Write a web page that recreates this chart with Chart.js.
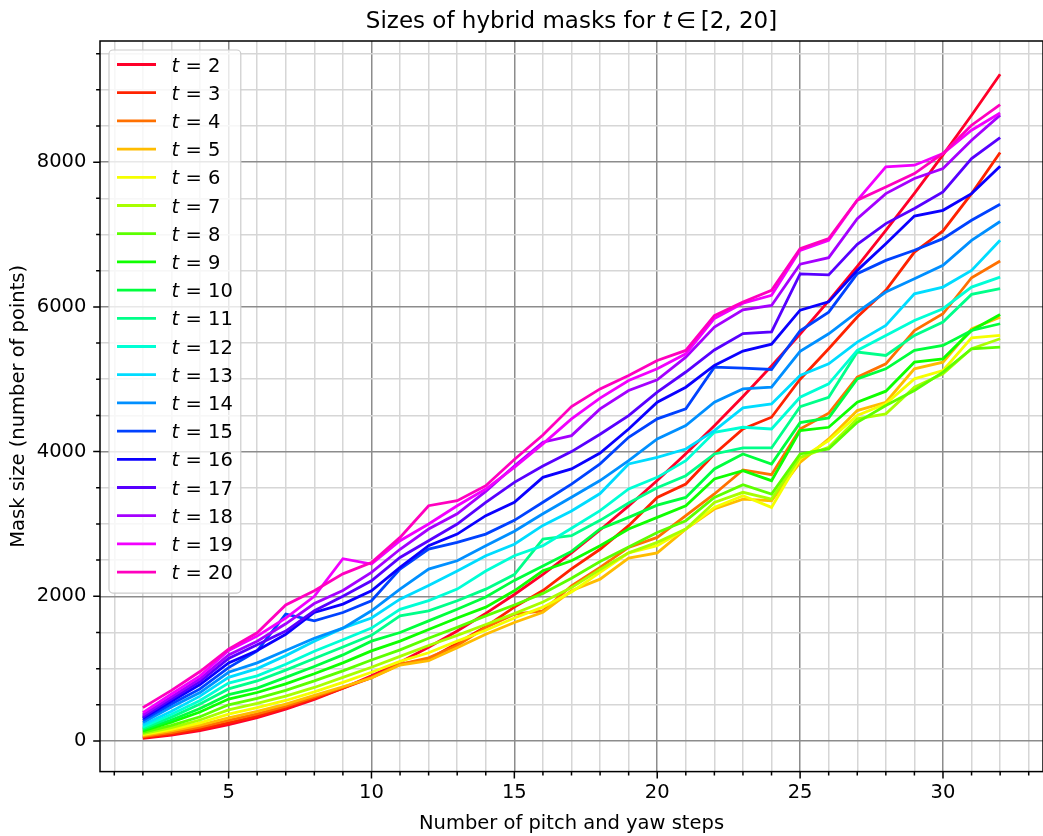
<!DOCTYPE html>
<html>
<head>
<meta charset="utf-8">
<title>Sizes of hybrid masks</title>
<script src="https://cdn.jsdelivr.net/npm/chart.js@4.4.1/dist/chart.umd.min.js"></script>
<style>
  html, body { margin: 0; padding: 0; background: #fff; }
  canvas { display: block; }
</style>
</head>
<body>
<canvas id="mask-chart" width="1043" height="836"></canvas>
<script>
'use strict';

// *********** DATA ****************

let steps = [2, 3, 4, 5, 6, 7, 8, 9, 10, 11, 12, 13, 14, 15, 16, 17, 18, 19, 20, 21, 22, 23, 24, 25, 26, 27, 28, 29, 30, 31, 32];
let tValues = [2, 3, 4, 5, 6, 7, 8, 9, 10, 11, 12, 13, 14, 15, 16, 17, 18, 19, 20];

let maskT2 = [36, 81, 144, 225, 324, 441, 576, 729, 900, 1089, 1296, 1521, 1764, 2025, 2304, 2601, 2916, 3249, 3600, 3969, 4356, 4761, 5184, 5625, 6084, 6561, 7056, 7569, 8100, 8649, 9216];
let maskT3 = [46, 95, 165, 250, 345, 460, 590, 730, 876, 1061, 1130, 1350, 1580, 1850, 2080, 2380, 2650, 2976, 3367, 3552, 3967, 4313, 4475, 5000, 5421, 5859, 6228, 6758, 7050, 7566, 8133];
let maskT4 = [60, 115, 190, 285, 375, 480, 610, 740, 880, 1060, 1150, 1320, 1568, 1753, 1799, 2145, 2400, 2676, 2814, 3114, 3414, 3746, 3681, 4313, 4530, 5028, 5213, 5674, 5905, 6403, 6634];
let maskT5 = [74, 140, 220, 320, 410, 510, 630, 750, 870, 1050, 1110, 1290, 1476, 1638, 1780, 2076, 2237, 2528, 2600, 2929, 3206, 3344, 3321, 3852, 4175, 4567, 4682, 5144, 5236, 5697, 5859];
let maskT6 = [88, 160, 250, 370, 460, 560, 680, 810, 950, 1100, 1220, 1380, 1530, 1700, 1850, 2060, 2330, 2600, 2699, 2929, 3229, 3391, 3229, 3900, 4152, 4498, 4659, 5005, 5121, 5573, 5605];
let maskT7 = [101, 185, 290, 430, 520, 620, 740, 880, 1020, 1170, 1320, 1460, 1610, 1760, 1920, 2120, 2370, 2600, 2745, 2929, 3298, 3437, 3344, 3921, 4059, 4452, 4521, 4890, 5075, 5421, 5559];
let maskT8 = [120, 215, 335, 500, 590, 700, 830, 970, 1120, 1260, 1420, 1570, 1730, 1880, 2040, 2250, 2480, 2680, 2883, 3045, 3367, 3543, 3414, 3967, 4036, 4405, 4636, 4844, 5098, 5421, 5443];
let maskT9 = [138, 260, 400, 580, 670, 790, 930, 1080, 1246, 1380, 1540, 1700, 1850, 2076, 2353, 2491, 2699, 2929, 3091, 3252, 3621, 3737, 3598, 4290, 4336, 4682, 4835, 5236, 5282, 5674, 5896];
let maskT10 = [157, 290, 450, 640, 730, 880, 1030, 1190, 1380, 1500, 1660, 1820, 1990, 2220, 2420, 2620, 2930, 3091, 3260, 3367, 3760, 3967, 3829, 4400, 4465, 5005, 5144, 5398, 5467, 5674, 5767];
let maskT11 = [175, 330, 510, 720, 830, 980, 1140, 1300, 1460, 1730, 1799, 1938, 2099, 2300, 2791, 2837, 3050, 3290, 3500, 3667, 3967, 4050, 4050, 4620, 4751, 5375, 5328, 5605, 5790, 6173, 6251];
let maskT12 = [194, 370, 560, 800, 900, 1060, 1240, 1400, 1560, 1820, 1940, 2100, 2350, 2560, 2700, 2940, 3183, 3483, 3644, 3875, 4267, 4336, 4313, 4751, 4936, 5398, 5605, 5813, 5975, 6274, 6412];
let maskT13 = [221, 410, 620, 880, 1000, 1180, 1380, 1560, 1700, 1960, 2150, 2350, 2560, 2720, 2980, 3180, 3420, 3829, 3921, 4036, 4290, 4604, 4659, 5051, 5213, 5513, 5744, 6181, 6274, 6505, 6920];
let maskT14 = [254, 470, 670, 950, 1080, 1250, 1420, 1560, 1800, 2099, 2376, 2491, 2699, 2900, 3140, 3370, 3600, 3875, 4175, 4360, 4682, 4867, 4890, 5385, 5628, 5928, 6205, 6389, 6574, 6920, 7180];
let maskT15 = [286, 510, 720, 1015, 1246, 1753, 1661, 1776, 1938, 2376, 2653, 2745, 2860, 3050, 3300, 3550, 3830, 4198, 4452, 4590, 5167, 5153, 5135, 5670, 5928, 6459, 6643, 6782, 6943, 7197, 7418];
let maskT16 = [314, 550, 780, 1080, 1250, 1476, 1776, 1892, 2076, 2399, 2699, 2860, 3114, 3298, 3644, 3760, 3980, 4313, 4682, 4890, 5190, 5390, 5485, 5955, 6070, 6505, 6874, 7256, 7335, 7566, 7944];
let maskT17 = [332, 580, 820, 1140, 1330, 1520, 1800, 2000, 2214, 2537, 2768, 2999, 3298, 3575, 3800, 4000, 4240, 4498, 4821, 5100, 5405, 5632, 5655, 6455, 6443, 6865, 7151, 7359, 7589, 8050, 8341];
let maskT18 = [360, 610, 860, 1190, 1380, 1620, 1900, 2080, 2330, 2650, 2930, 3140, 3450, 3800, 4129, 4221, 4590, 4844, 4992, 5306, 5720, 5960, 6020, 6590, 6680, 7220, 7566, 7774, 7912, 8303, 8650];
let maskT19 = [392, 650, 900, 1250, 1450, 1700, 2000, 2520, 2445, 2768, 2999, 3252, 3483, 3783, 4106, 4452, 4740, 4982, 5144, 5352, 5840, 6050, 6160, 6782, 6920, 7474, 7935, 7958, 8120, 8442, 8680];
let maskT20 = [461, 700, 960, 1270, 1495, 1880, 2076, 2310, 2468, 2814, 3252, 3322, 3529, 3890, 4230, 4623, 4867, 5051, 5259, 5398, 5880, 6067, 6230, 6805, 6945, 7474, 7658, 7843, 8120, 8511, 8796];

let allMasks = [maskT2, maskT3, maskT4, maskT5, maskT6, maskT7, maskT8, maskT9, maskT10, maskT11,
  maskT12, maskT13, maskT14, maskT15, maskT16, maskT17, maskT18, maskT19, maskT20];

let xTickLabels = [5, 10, 15, 20, 25, 30];
let yTickLabels = [0, 2000, 4000, 6000, 8000];

// *********** STYLE ****************

let fontFamily = '"DejaVu Sans", sans-serif';
let baseSize = 19.5;
let majorGrid = '#8c8c8c';
let minorGrid = '#d6d6d6';

Chart.defaults.color = '#000';
Chart.defaults.font.family = fontFamily;

// gist_rainbow colormap stops: position, r, g, b
let rainbowStops = [
  [0.000, 1.00, 0.00, 0.16],
  [0.030, 1.00, 0.00, 0.00],
  [0.215, 1.00, 1.00, 0.00],
  [0.400, 0.00, 1.00, 0.00],
  [0.586, 0.00, 1.00, 1.00],
  [0.770, 0.00, 0.00, 1.00],
  [0.954, 1.00, 0.00, 1.00],
  [1.000, 1.00, 0.00, 0.75]
];

function rainbowColor(f) {
  for (let i = 1; i < rainbowStops.length; i++) {
    let a = rainbowStops[i - 1];
    let b = rainbowStops[i];
    if (f <= b[0]) {
      let k = (f - a[0]) / (b[0] - a[0]);
      let rgb = [1, 2, 3].map(j => Math.round(255 * (a[j] + k * (b[j] - a[j]))));
      return `rgb(${rgb.join(',')})`;
    }
  }
  return 'rgb(255,0,191)';
}

// ********** DATASETS *******************

let datasets = [];
for (let i = 0; i < tValues.length; i++) {
  datasets.push({
    label: 't = ' + tValues[i],
    data: allMasks[i].map((v, j) => ({ x: steps[j], y: v })),
    borderColor: rainbowColor(i / (tValues.length - 1)),
    backgroundColor: rainbowColor(i / (tValues.length - 1)),
    borderWidth: 2.8,
    pointRadius: 0,
    tension: 0,
    fill: false,
    order: tValues.length - i
  });
}

// ********** PLUGINS ********************

// frame of the axes plus major / minor tick marks
let frameTicks = {
  id: 'frameTicks',
  afterDatasetsDraw(chart) {
    let ctx = chart.ctx;
    let area = chart.chartArea;
    let xs = chart.scales.x;
    let ys = chart.scales.y;
    ctx.save();
    ctx.strokeStyle = '#000';
    ctx.lineWidth = 1.5;
    ctx.beginPath();
    xs.ticks.forEach(t => {
      let px = xs.getPixelForValue(t.value);
      let len = t.value % 5 === 0 ? 6.8 : 3.9;
      ctx.moveTo(px, area.bottom);
      ctx.lineTo(px, area.bottom + len);
    });
    ys.ticks.forEach(t => {
      let py = ys.getPixelForValue(t.value);
      let len = t.value % 2000 === 0 ? 6.8 : 3.9;
      ctx.moveTo(area.left, py);
      ctx.lineTo(area.left - len, py);
    });
    ctx.stroke();
    ctx.strokeRect(area.left, area.top, area.right - area.left, area.bottom - area.top);
    ctx.restore();
  }
};

// title with an italic t
let mathTitle = {
  id: 'mathTitle',
  afterDraw(chart) {
    let ctx = chart.ctx;
    let area = chart.chartArea;
    let size = 23;
    let parts = [
      ['Sizes of hybrid masks for ', 'normal'],
      ['t', 'italic'],
      ['\u2009\u2208\u2009[2, 20]', 'normal']
    ];
    ctx.save();
    let total = 0;
    parts.forEach(p => {
      ctx.font = `${p[1]} ${size}px ${fontFamily}`;
      total += ctx.measureText(p[0]).width;
    });
    let x = (area.left + area.right) / 2 - total / 2;
    ctx.fillStyle = '#000';
    ctx.textBaseline = 'alphabetic';
    parts.forEach(p => {
      ctx.font = `${p[1]} ${size}px ${fontFamily}`;
      ctx.fillText(p[0], x, area.top - 13);
      x += ctx.measureText(p[0]).width;
    });
    ctx.restore();
  }
};

// legend drawn inside the axes, upper left
let insideLegend = {
  id: 'insideLegend',
  afterDraw(chart) {
    let ctx = chart.ctx;
    let area = chart.chartArea;
    let left = area.left + 9;
    let top = area.top + 9;
    let firstRow = top + 14.5;
    let rowGap = 28.2;
    let handleStart = left + 8;
    let handleEnd = handleStart + 39;
    let textStart = handleEnd + 15.6;

    ctx.save();
    let widest = 0;
    tValues.forEach(t => {
      ctx.font = `italic ${baseSize}px ${fontFamily}`;
      let w = ctx.measureText('t').width;
      ctx.font = `normal ${baseSize}px ${fontFamily}`;
      w += ctx.measureText(' = ' + t).width;
      widest = Math.max(widest, w);
    });
    let width = textStart + widest + 8 - left;
    let height = firstRow + (tValues.length - 1) * rowGap + 21 - top;

    ctx.beginPath();
    ctx.roundRect(left, top, width, height, 4);
    ctx.fillStyle = 'rgba(255,255,255,0.8)';
    ctx.fill();
    ctx.strokeStyle = '#cccccc';
    ctx.lineWidth = 1.2;
    ctx.stroke();

    chart.data.datasets.forEach((ds, i) => {
      let y = firstRow + i * rowGap;
      ctx.strokeStyle = ds.borderColor;
      ctx.lineWidth = 2.8;
      ctx.beginPath();
      ctx.moveTo(handleStart, y);
      ctx.lineTo(handleEnd, y);
      ctx.stroke();

      ctx.fillStyle = '#000';
      ctx.textBaseline = 'alphabetic';
      ctx.font = `italic ${baseSize}px ${fontFamily}`;
      ctx.fillText('t', textStart, y + 7);
      let tw = ctx.measureText('t').width;
      ctx.font = `normal ${baseSize}px ${fontFamily}`;
      ctx.fillText(' = ' + tValues[i], textStart + tw, y + 7);
    });
    ctx.restore();
  }
};

// ********** CHART ********************

let ctx = document.getElementById('mask-chart').getContext('2d');

let chartConfig = {
  type: 'line',
  data: { datasets: datasets },
  options: {
    responsive: false,
    animation: false,
    devicePixelRatio: 1,
    layout: { padding: { top: 41, right: 0, bottom: 0, left: 0 } },
    plugins: {
      legend: { display: false },
      tooltip: { enabled: false },
      title: { display: false }
    },
    scales: {
      x: {
        type: 'linear',
        min: 0.5,
        max: 33.5,
        afterBuildTicks: scale => {
          let ticks = [];
          for (let v = 1; v <= 33; v++) ticks.push({ value: v });
          scale.ticks = ticks;
        },
        afterFit: scale => { scale.height = 64.4; },
        grid: {
          color: c => (c.tick && c.tick.value % 5 === 0) ? majorGrid : minorGrid,
          lineWidth: 1.5,
          drawTicks: false
        },
        border: { display: false },
        ticks: {
          autoSkip: false,
          maxRotation: 0,
          padding: 10,
          font: { size: baseSize },
          callback: v => xTickLabels.includes(v) ? String(v) : ''
        },
        title: {
          display: true,
          text: 'Number of pitch and yaw steps',
          font: { size: baseSize },
          padding: { top: 6.3, bottom: 0 }
        }
      },
      y: {
        type: 'linear',
        min: -423,
        max: 9675,
        afterBuildTicks: scale => {
          let ticks = [];
          for (let v = 0; v <= 9500; v += 500) ticks.push({ value: v });
          scale.ticks = ticks;
        },
        afterFit: scale => { scale.width = 100; },
        grid: {
          color: c => (c.tick && c.tick.value % 2000 === 0) ? majorGrid : minorGrid,
          lineWidth: 1.5,
          drawTicks: false
        },
        border: { display: false },
        ticks: {
          autoSkip: false,
          padding: 13.6,
          font: { size: baseSize },
          callback: v => yTickLabels.includes(v) ? String(v) : ''
        },
        title: {
          display: true,
          text: 'Mask size (number of points)',
          font: { size: baseSize },
          padding: { top: 7, bottom: 0 }
        }
      }
    }
  },
  plugins: [frameTicks, mathTitle, insideLegend]
};

new Chart(ctx, chartConfig);
</script>
</body>
</html>
